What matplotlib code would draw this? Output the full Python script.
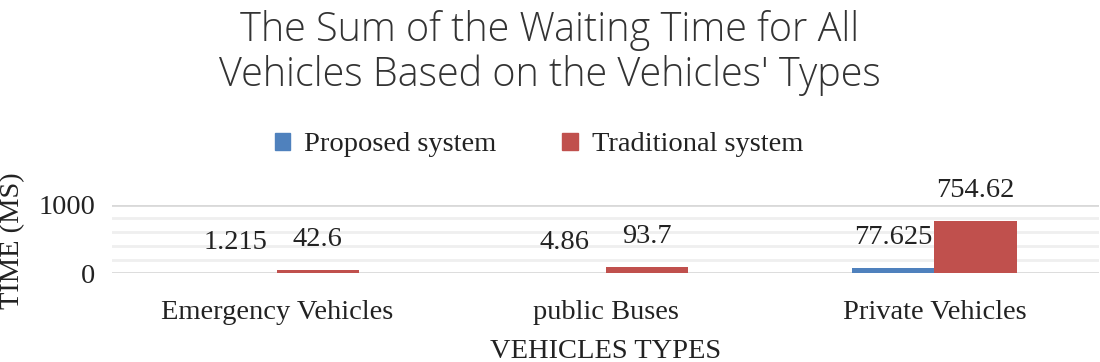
import numpy as np
import matplotlib
matplotlib.use("Agg")
import matplotlib.pyplot as plt
from matplotlib.patches import Patch

categories = ["Emergency Vehicles", "public Buses", "Private Vehicles"]
proposed = [1.215, 4.86, 77.625]
traditional = [42.6, 93.7, 754.62]
proposed_labels = ["1.215", "4.86", "77.625"]
traditional_labels = ["42.6", "93.7", "754.62"]

blue = "#4F81BD"
red = "#C0504D"
serif = "Liberation Serif"
fs = 20.5

fig = plt.figure(figsize=(11, 3.62), dpi=100)
ax = fig.add_axes([0.102, 0.245, 0.897, 0.19])

x = np.arange(len(categories))
w = 0.25
ax.bar(x - w / 2, proposed, w, color=blue, zorder=3)
ax.bar(x + w / 2, traditional, w, color=red, zorder=3)

for xi, v, lab in zip(x - w / 2, proposed, proposed_labels):
    ax.annotate(lab, (xi, v), xytext=(0, 22), textcoords="offset points",
                ha="center", va="center", fontsize=fs, family=serif, color="#222222")
for xi, v, lab in zip(x + w / 2, traditional, traditional_labels):
    ax.annotate(lab, (xi, v), xytext=(0, 22), textcoords="offset points",
                ha="center", va="center", fontsize=fs, family=serif, color="#222222")

ax.set_xlim(-0.5, 2.5)
ax.set_ylim(0, 1000)
ax.set_yticks([0, 1000])
ax.set_yticks([200, 400, 600, 800], minor=True)
ax.grid(axis="y", which="major", color="#D9D9D9", linewidth=2, zorder=0)
ax.grid(axis="y", which="minor", color="#EFEFEF", linewidth=2, zorder=0)
ax.tick_params(axis="y", which="both", length=0, pad=12)
ax.tick_params(axis="x", length=0, pad=19)
ax.set_xticks(x)
ax.set_xticklabels(categories, fontsize=fs, family=serif, color="#222222")
for t in ax.get_yticklabels():
    t.set_fontsize(fs)
    t.set_family(serif)
    t.set_color("#222222")
for s in ax.spines.values():
    s.set_visible(False)

ax.set_ylabel("TIME (MS)", fontsize=fs, family=serif, color="#222222")
ax.yaxis.set_label_coords(-0.088, 0.48)
ax.set_xlabel("VEHICLES TYPES", fontsize=fs, family=serif, color="#222222")
ax.xaxis.set_label_coords(0.5, -0.95)

fig.text(0.5, 0.917, "The Sum of the Waiting Time for All", ha="center", va="center",
         fontsize=28.5, family="Open Sans", fontweight="light", color="#333333")
fig.text(0.5, 0.793, "Vehicles Based on the Vehicles' Types", ha="center", va="center",
         fontsize=28.5, family="Open Sans", fontweight="light", color="#333333")

handles = [Patch(color=blue), Patch(color=red)]
leg = fig.legend(handles, ["Proposed system", "Traditional system"], loc="center",
                 bbox_to_anchor=(0.49, 0.6), ncol=2, frameon=False,
                 prop={"family": serif, "size": fs}, handlelength=0.55, handleheight=0.55,
                 columnspacing=2.3, handletextpad=0.5)
for t in leg.get_texts():
    t.set_color("#222222")

fig.savefig("out.png", dpi=100)
